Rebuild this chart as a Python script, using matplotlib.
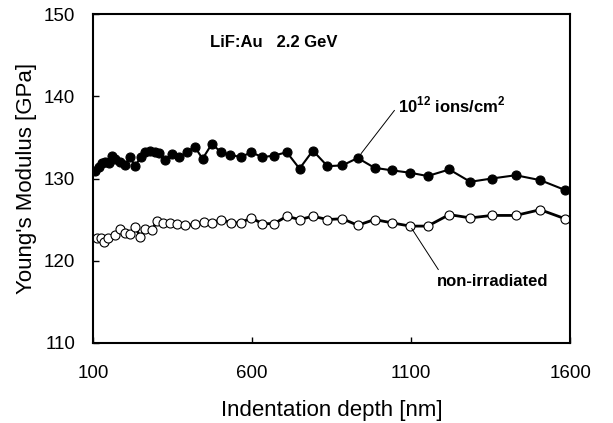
import matplotlib.pyplot as plt

plt.rcParams['font.family'] = ['Liberation Sans', 'DejaVu Sans']
plt.rcParams['mathtext.fontset'] = 'custom'
plt.rcParams['mathtext.rm'] = 'Liberation Sans:bold'
plt.rcParams['mathtext.bf'] = 'Liberation Sans:bold'

# irradiated, 10^12 ions/cm2 (filled circles)
depth_irr = [106, 117, 127, 138, 150, 160, 170, 185, 201, 216, 232, 249, 264, 279, 295, 308,
             326, 347, 370, 395, 419, 444, 473, 503, 531, 564, 597, 632, 669, 709, 749, 791,
             837, 884, 932, 985, 1039, 1097, 1152, 1220, 1286, 1354, 1429, 1506, 1584, 1665]
modulus_irr = [130.9, 131.4, 131.9, 132.0, 131.9, 132.8, 132.4, 132.0, 131.7, 132.6, 131.5, 132.6,
               133.2, 133.3, 133.2, 133.1, 132.3, 133.0, 132.6, 133.2, 133.9, 132.4, 134.2, 133.2,
               132.9, 132.6, 133.2, 132.6, 132.8, 133.2, 131.2, 133.4, 131.5, 131.6, 132.5, 131.3,
               131.0, 130.7, 130.3, 131.1, 129.6, 130.0, 130.4, 129.8, 128.6, 128.0]

# non-irradiated (open circles)
depth_ref = [112, 124, 135, 148, 169, 185, 201, 216, 232, 248, 264, 285, 300, 321, 342, 364,
             388, 421, 447, 473, 503, 534, 564, 597, 632, 669, 709, 749, 791, 837, 884, 932,
             985, 1039, 1097, 1152, 1220, 1286, 1354, 1429, 1506, 1584, 1665]
modulus_ref = [122.7, 122.8, 122.3, 122.7, 123.1, 123.8, 123.3, 123.2, 124.1, 122.9, 123.8, 123.7,
               124.8, 124.6, 124.6, 124.5, 124.3, 124.4, 124.7, 124.6, 125.0, 124.6, 124.6, 125.2,
               124.5, 124.5, 125.4, 125.0, 125.4, 125.0, 125.1, 124.3, 125.0, 124.6, 124.2, 124.2,
               125.6, 125.2, 125.5, 125.5, 126.2, 125.1, 126.3]

fig = plt.figure(figsize=(6.13, 4.23), dpi=100)
ax = fig.add_axes([0.152, 0.19, 0.778, 0.776])

ax.plot(depth_ref, modulus_ref, color='black', lw=2.0, marker='o', ms=6.5,
        mfc='white', mec='black', mew=0.8)
ax.plot(depth_irr, modulus_irr, color='black', lw=1.5, marker='o', ms=6.5,
        mfc='black', mec='black', mew=0.8)

ax.set_xlim(100, 1600)
ax.set_ylim(110, 150)
ax.set_xticks([100, 600, 1100, 1600])
ax.set_yticks([110, 120, 130, 140, 150])
ax.tick_params(direction='in', length=4, width=1, labelsize=13.5)
ax.tick_params(axis='x', pad=16)
ax.tick_params(axis='y', pad=13)
for s in ax.spines.values():
    s.set_linewidth(1.5)

ax.set_xlabel('Indentation depth [nm]', fontsize=16, labelpad=13)
ax.set_ylabel("Young's Modulus [GPa]", fontsize=16, labelpad=5)

ax.text(468, 146.6, 'LiF:Au   2.2 GeV', fontsize=12, fontweight='bold', va='center')

i = depth_irr.index(932)
ax.annotate(r'10$^{12}$ ions/cm$^{2}$', xy=(depth_irr[i], modulus_irr[i]), xytext=(1059, 139.0),
            fontsize=12, fontweight='bold', va='center', ha='left',
            arrowprops=dict(arrowstyle='-', color='black', lw=0.7, shrinkA=1, shrinkB=4,
                            relpos=(0, 0.45)))

j = depth_ref.index(1097)
ax.annotate('non-irradiated', xy=(depth_ref[j], modulus_ref[j]), xytext=(1355, 117.5),
            fontsize=12, fontweight='bold', va='center', ha='center',
            arrowprops=dict(arrowstyle='-', color='black', lw=0.7, shrinkA=1, shrinkB=2,
                            relpos=(0.04, 1.0)))

fig.savefig('out.png', dpi=100)
